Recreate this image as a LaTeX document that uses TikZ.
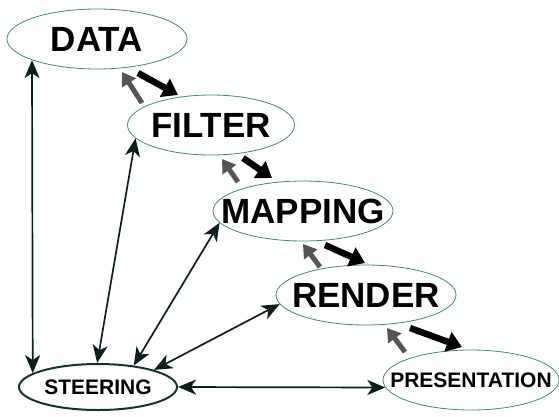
\documentclass[tikz,border=0pt]{standalone}
\usepackage{fontspec}
\setmainfont{Liberation Sans}
\usetikzlibrary{shapes.geometric,arrows.meta}

\definecolor{rim}{RGB}{70,130,130}
\definecolor{rimdark}{RGB}{20,50,50}
\definecolor{wire}{RGB}{10,30,30}
\definecolor{backflow}{RGB}{85,85,85}

% label set in a zero-width box so the outline size comes only from the minimum sizes
\newcommand{\stagelabel}[1]{\makebox[0pt][c]{#1}}

\tikzset{
  stage/.style={ellipse, draw=rim, line width=0.8pt, inner sep=0pt,
    font=\bfseries\fontsize{35}{35}\selectfont},
  ctrl/.style={ellipse, draw=rimdark, line width=2pt, inner sep=0pt,
    font=\bfseries\fontsize{21}{21}\selectfont},
  link/.style={draw=wire, line width=1.7pt,
    {Stealth[length=18pt,width=15pt,inset=5pt]}-{Stealth[length=18pt,width=15pt,inset=5pt]}},
  fwd/.style={draw=black, line width=6.5pt, -{Triangle[length=15pt,width=20pt]}},
  bwd/.style={draw=backflow, line width=5pt, -{Triangle[length=13pt,width=16pt]}},
}

\begin{document}
\begin{tikzpicture}[x=1pt,y=-1pt]
  \useasboundingbox (0,0) rectangle (559,416);

  % pipeline stages
  \node[stage, minimum width=180pt, minimum height=60pt] (data)    at (97,39)   {\stagelabel{DATA}};
  \node[stage, minimum width=167pt, minimum height=60pt] (filter)  at (211,125) {\stagelabel{FILTER}};
  \node[stage, minimum width=180pt, minimum height=60pt] (mapping) at (303,211) {\stagelabel{MAPPING}};
  \node[stage, minimum width=180pt, minimum height=60pt] (render)  at (366,295) {\stagelabel{RENDER}};
  \node[stage, minimum width=176pt, minimum height=60pt,
        font=\bfseries\fontsize{21}{21}\selectfont] (present) at (471,380) {\stagelabel{PRESENTATION}};
  \node[ctrl, minimum width=158pt, minimum height=46pt] (steer) at (98,387) {\stagelabel{STEERING}};

  % steering links
  \draw[link] (data.198)    -- (steer.168.9);
  \draw[link] (filter.190)  -- (steer.92.5);
  \draw[link] (mapping.188) -- (steer.31.7);
  \draw[link] (render.186)  -- (steer.17.5);
  \draw[link] (steer.0)     -- (present.185);

  % data flow between stages
  \coordinate (df1) at (138,73);  \coordinate (df2) at (178,95);
  \coordinate (db1) at (142,103); \coordinate (db2) at (122,72);
  \coordinate (fm1) at (243,158); \coordinate (fm2) at (272,178);
  \coordinate (fb1) at (238,182); \coordinate (fb2) at (222,159);
  \coordinate (mr1) at (325,245); \coordinate (mr2) at (365,263);
  \coordinate (mb1) at (320,267); \coordinate (mb2) at (303,244);
  \coordinate (rp1) at (410,328); \coordinate (rp2) at (462,347);
  \coordinate (rb1) at (405,352); \coordinate (rb2) at (387,328);

  \draw[fwd] (df1) -- (df2);  \draw[bwd] (db1) -- (db2);
  \draw[fwd] (fm1) -- (fm2);  \draw[bwd] (fb1) -- (fb2);
  \draw[fwd] (mr1) -- (mr2);  \draw[bwd] (mb1) -- (mb2);
  \draw[fwd] (rp1) -- (rp2);  \draw[bwd] (rb1) -- (rb2);
\end{tikzpicture}
\end{document}
